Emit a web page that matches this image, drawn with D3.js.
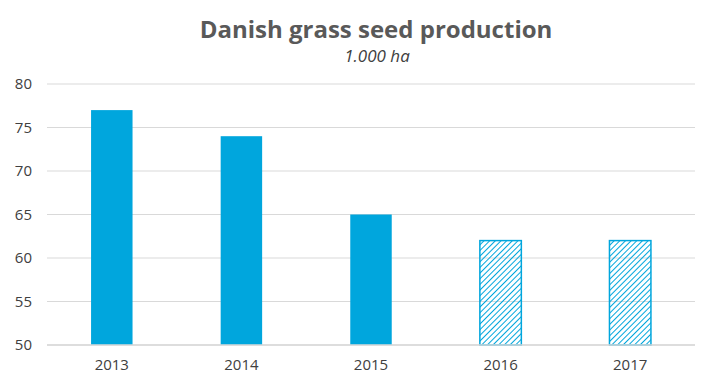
<!DOCTYPE html>
<meta charset="UTF-8">
<style>
  body { margin: 0; background: #fff; }
  .tick text { font: 15px "Open Sans", sans-serif; fill: #404040; }
</style>
<body>
<div class="chart"></div>
<script src="https://d3js.org/d3.v7.min.js"></script>
<script>
// data
var years = ["2013", "2014", "2015", "2016", "2017"];
var hectares = [77, 74, 65, 62, 62];
var forecast = [false, false, false, true, true];
var yTicks = [50, 55, 60, 65, 70, 75, 80];

var width = 711, height = 385;
var margin = {top: 84, right: 16, bottom: 40, left: 47};

var svg = d3.select(".chart").append("svg")
    .attr("width", width)
    .attr("height", height);

var defs = svg.append("defs");
var pat = defs.append("pattern")
    .attr("id", "hatch")
    .attr("patternUnits", "userSpaceOnUse")
    .attr("width", 4).attr("height", 4)
    .attr("patternTransform", "rotate(45)");
pat.append("line")
    .attr("x1", 0).attr("y1", 0).attr("x2", 0).attr("y2", 4)
    .attr("stroke", "#00a6dd").attr("stroke-width", 2);

var x = d3.scaleBand()
    .domain(years)
    .range([margin.left, width - margin.right])
    .paddingInner(0.68)
    .paddingOuter(0.34);

var y = d3.scaleLinear()
    .domain([50, 80])
    .range([height - margin.bottom, margin.top]);

// gridlines
svg.append("g")
    .selectAll("line")
    .data(yTicks)
    .join("line")
    .attr("x1", margin.left).attr("x2", width - margin.right)
    .attr("y1", function (d) { return y(d); })
    .attr("y2", function (d) { return y(d); })
    .attr("stroke", "#d9d9d9")
    .attr("stroke-width", 1);

var yAxis = svg.append("g")
    .attr("transform", "translate(" + margin.left + ",0)")
    .call(d3.axisLeft(y).tickValues(yTicks).tickSize(0).tickPadding(15));
yAxis.select(".domain").remove();

// bars
svg.append("g")
    .selectAll("rect")
    .data(years)
    .join("rect")
    .attr("x", function (d) { return x(d); })
    .attr("width", x.bandwidth())
    .attr("y", function (d, i) { return y(hectares[i]); })
    .attr("height", function (d, i) { return y(50) - y(hectares[i]); })
    .attr("fill", function (d, i) { return forecast[i] ? "url(#hatch)" : "#00a6dd"; })
    .attr("stroke", function (d, i) { return forecast[i] ? "#00a6dd" : "none"; })
    .attr("stroke-width", 1.5);

// baseline
svg.append("line")
    .attr("x1", margin.left).attr("x2", width - margin.right)
    .attr("y1", y(50)).attr("y2", y(50))
    .attr("stroke", "#d9d9d9").attr("stroke-width", 1.5);

var xAxis = svg.append("g")
    .attr("transform", "translate(0," + y(50) + ")")
    .call(d3.axisBottom(x).tickSize(0).tickPadding(14));
xAxis.select(".domain").remove();

// titles
svg.append("text")
    .attr("x", 376).attr("y", 38)
    .attr("text-anchor", "middle")
    .style("font", "bold 24px 'Open Sans', sans-serif")
    .attr("fill", "#595959")
    .text("Danish grass seed production");

svg.append("text")
    .attr("x", 377).attr("y", 62)
    .attr("text-anchor", "middle")
    .style("font", "italic 17px 'Open Sans', sans-serif")
    .attr("fill", "#404040")
    .text("1.000 ha");
</script>
</body>
